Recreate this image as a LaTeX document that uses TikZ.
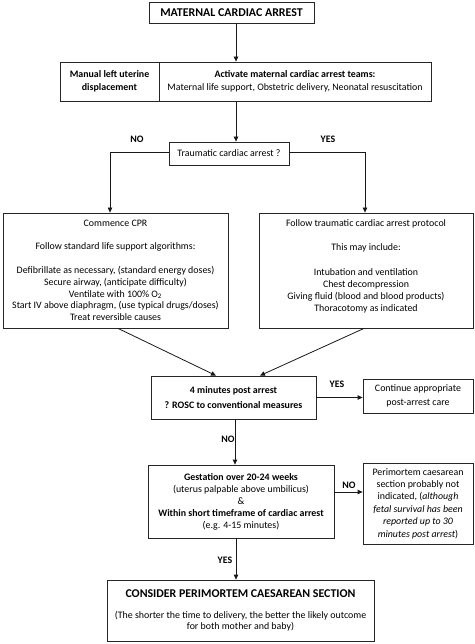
\documentclass[tikz,border=0pt]{standalone}
\usepackage{fontspec}
\setmainfont{Carlito}
\usetikzlibrary{arrows.meta}
\newcommand{\fsbody}{\fontsize{9.9}{11.8}\selectfont}
\newcommand{\fstitle}{\fontsize{11.9}{13}\selectfont}
\begin{document}
\begin{tikzpicture}[x=1pt,y=-1pt,
  box/.style={draw=black!85, line width=0.8pt, rectangle, inner sep=0pt, align=center, font=\fsbody},
  txt/.style={inner sep=0pt, align=center, font=\fsbody},
  arr/.style={-{Triangle[length=5pt,width=4.5pt]}, line width=0.8pt, draw=black!90},
  lbl/.style={font=\fsbody\bfseries, inner sep=0pt}]
\useasboundingbox (0,0) rectangle (474,644);
\coordinate (axis) at (236,0);

% top
\node[box, minimum width=165pt, minimum height=21pt, font=\fstitle\bfseries] (top) at (231.5,12.5) {MATERNAL CARDIAC ARREST};

% second row
\node[box, minimum width=99pt, minimum height=39pt, font=\fontsize{9.9}{13.5}\selectfont] (mlud) at (109.5,81.5) {\textbf{Manual left uterine}\\\textbf{displacement}};
\node[box, minimum width=272pt, minimum height=39pt, font=\fontsize{9.9}{13.5}\selectfont] (teams) at (295,81.5) {\textbf{Activate maternal cardiac arrest teams:}\\Maternal life support, Obstetric delivery, Neonatal resuscitation};

% traumatic question
\node[box, minimum width=120pt, minimum height=23pt] (trauma) at (229,153.5) {Traumatic cardiac arrest ?};
\node[lbl] (no1) at (137,139) {NO};
\node[lbl] (yes1) at (328,139) {YES};

% CPR box
\node[box, minimum width=225pt, minimum height=115pt] (cpr) at (115.5,270.5) {Commence CPR\\[11.4pt]
Follow standard life support algorithms:\\[12pt]
Defibrillate as necessary, (standard energy doses)\\
Secure airway, (anticipate difficulty)\\
Ventilate with 100\% O\textsubscript{2}\\
Start IV above diaphragm, (use typical drugs/doses)\\
Treat reversible causes};

% traumatic protocol box
\node[box, minimum width=214pt, minimum height=115pt] (tcap) at (366,270.5) {};
\node[txt] (tcaptxt) at (366,266.5) {Follow traumatic cardiac arrest protocol\\[11.4pt]
This may include:\\[14pt]
Intubation and ventilation\\
Chest decompression\\
Giving fluid (blood and blood products)\\
Thoracotomy as indicated};

% ROSC
\node[box, minimum width=165pt, minimum height=43pt, font=\fontsize{9.9}{14.5}\selectfont] (rosc) at (233.5,397.5) {\textbf{4 minutes post arrest}\\\textbf{? ROSC to conventional measures}};
\node[box, minimum width=110pt, minimum height=34pt, font=\fontsize{9.9}{14.5}\selectfont] (cont) at (418,396) {Continue appropriate\\post-arrest care};
\node[lbl] (yes2) at (337,384) {YES};
\node[lbl] (no2) at (228,439) {NO};

% Gestation
\node[box, minimum width=186pt, minimum height=73pt, font=\fontsize{9.9}{12}\selectfont] (gest) at (241,501.5) {\textbf{Gestation over 20-24 weeks}\\
(uterus palpable above umbilicus)\\
\&\\
\textbf{Within short timeframe of cardiac arrest}\\
(e.g. 4-15 minutes)};
\node[box, minimum width=110pt, minimum height=81pt, font=\fontsize{9.9}{12.4}\selectfont] (peri) at (418,503.5) {Perimortem caesarean\\
section probably not\\
indicated, (\textit{although}\\
\textit{fetal survival has been}\\
\textit{reported up to 30}\\
\textit{minutes post arrest})};
\node[lbl] (no3) at (349,485) {NO};
\node[lbl] (yes3) at (225,560) {YES};

% final
\node[box, minimum width=267pt, minimum height=61pt, font=\fontsize{9.9}{11.5}\selectfont] (final) at (240.5,610.5) {{\fstitle\bfseries CONSIDER PERIMORTEM CAESAREAN SECTION}\\[9pt]
(The shorter the time to delivery, the better the likely outcome\\
for both mother and baby)};

% connectors
\draw[arr] (top.south -| axis) -- (mlud.north -| axis);
\draw[arr] (teams.south -| axis) -- (trauma.north -| axis);
\coordinate (tw) at ([yshift=1.5pt]trauma.west);
\coordinate (te) at ([yshift=1.5pt]trauma.east);
\draw[arr] (tw) -| ([xshift=-5.5pt]cpr.north);
\draw[arr] (te) -| ([xshift=-1pt]tcap.north);
\draw[arr] ([xshift=2.5pt]cpr.south) -- ([xshift=-17.5pt]rosc.north);
\draw[arr] ([xshift=-2pt]tcap.south) -- ([xshift=26.5pt]rosc.north);
\draw[arr] (rosc.east) -- (rosc.east -| cont.west);
\coordinate (axis2) at (235,0);
\draw[arr] (rosc.south -| axis2) -- (gest.north -| axis2);
\coordinate (g2p) at ([yshift=9.5pt]gest.east);
\draw[arr] (g2p) -- (g2p -| peri.west);
\draw[arr] (gest.south -| axis) -- (final.north -| axis);
\end{tikzpicture}
\end{document}
